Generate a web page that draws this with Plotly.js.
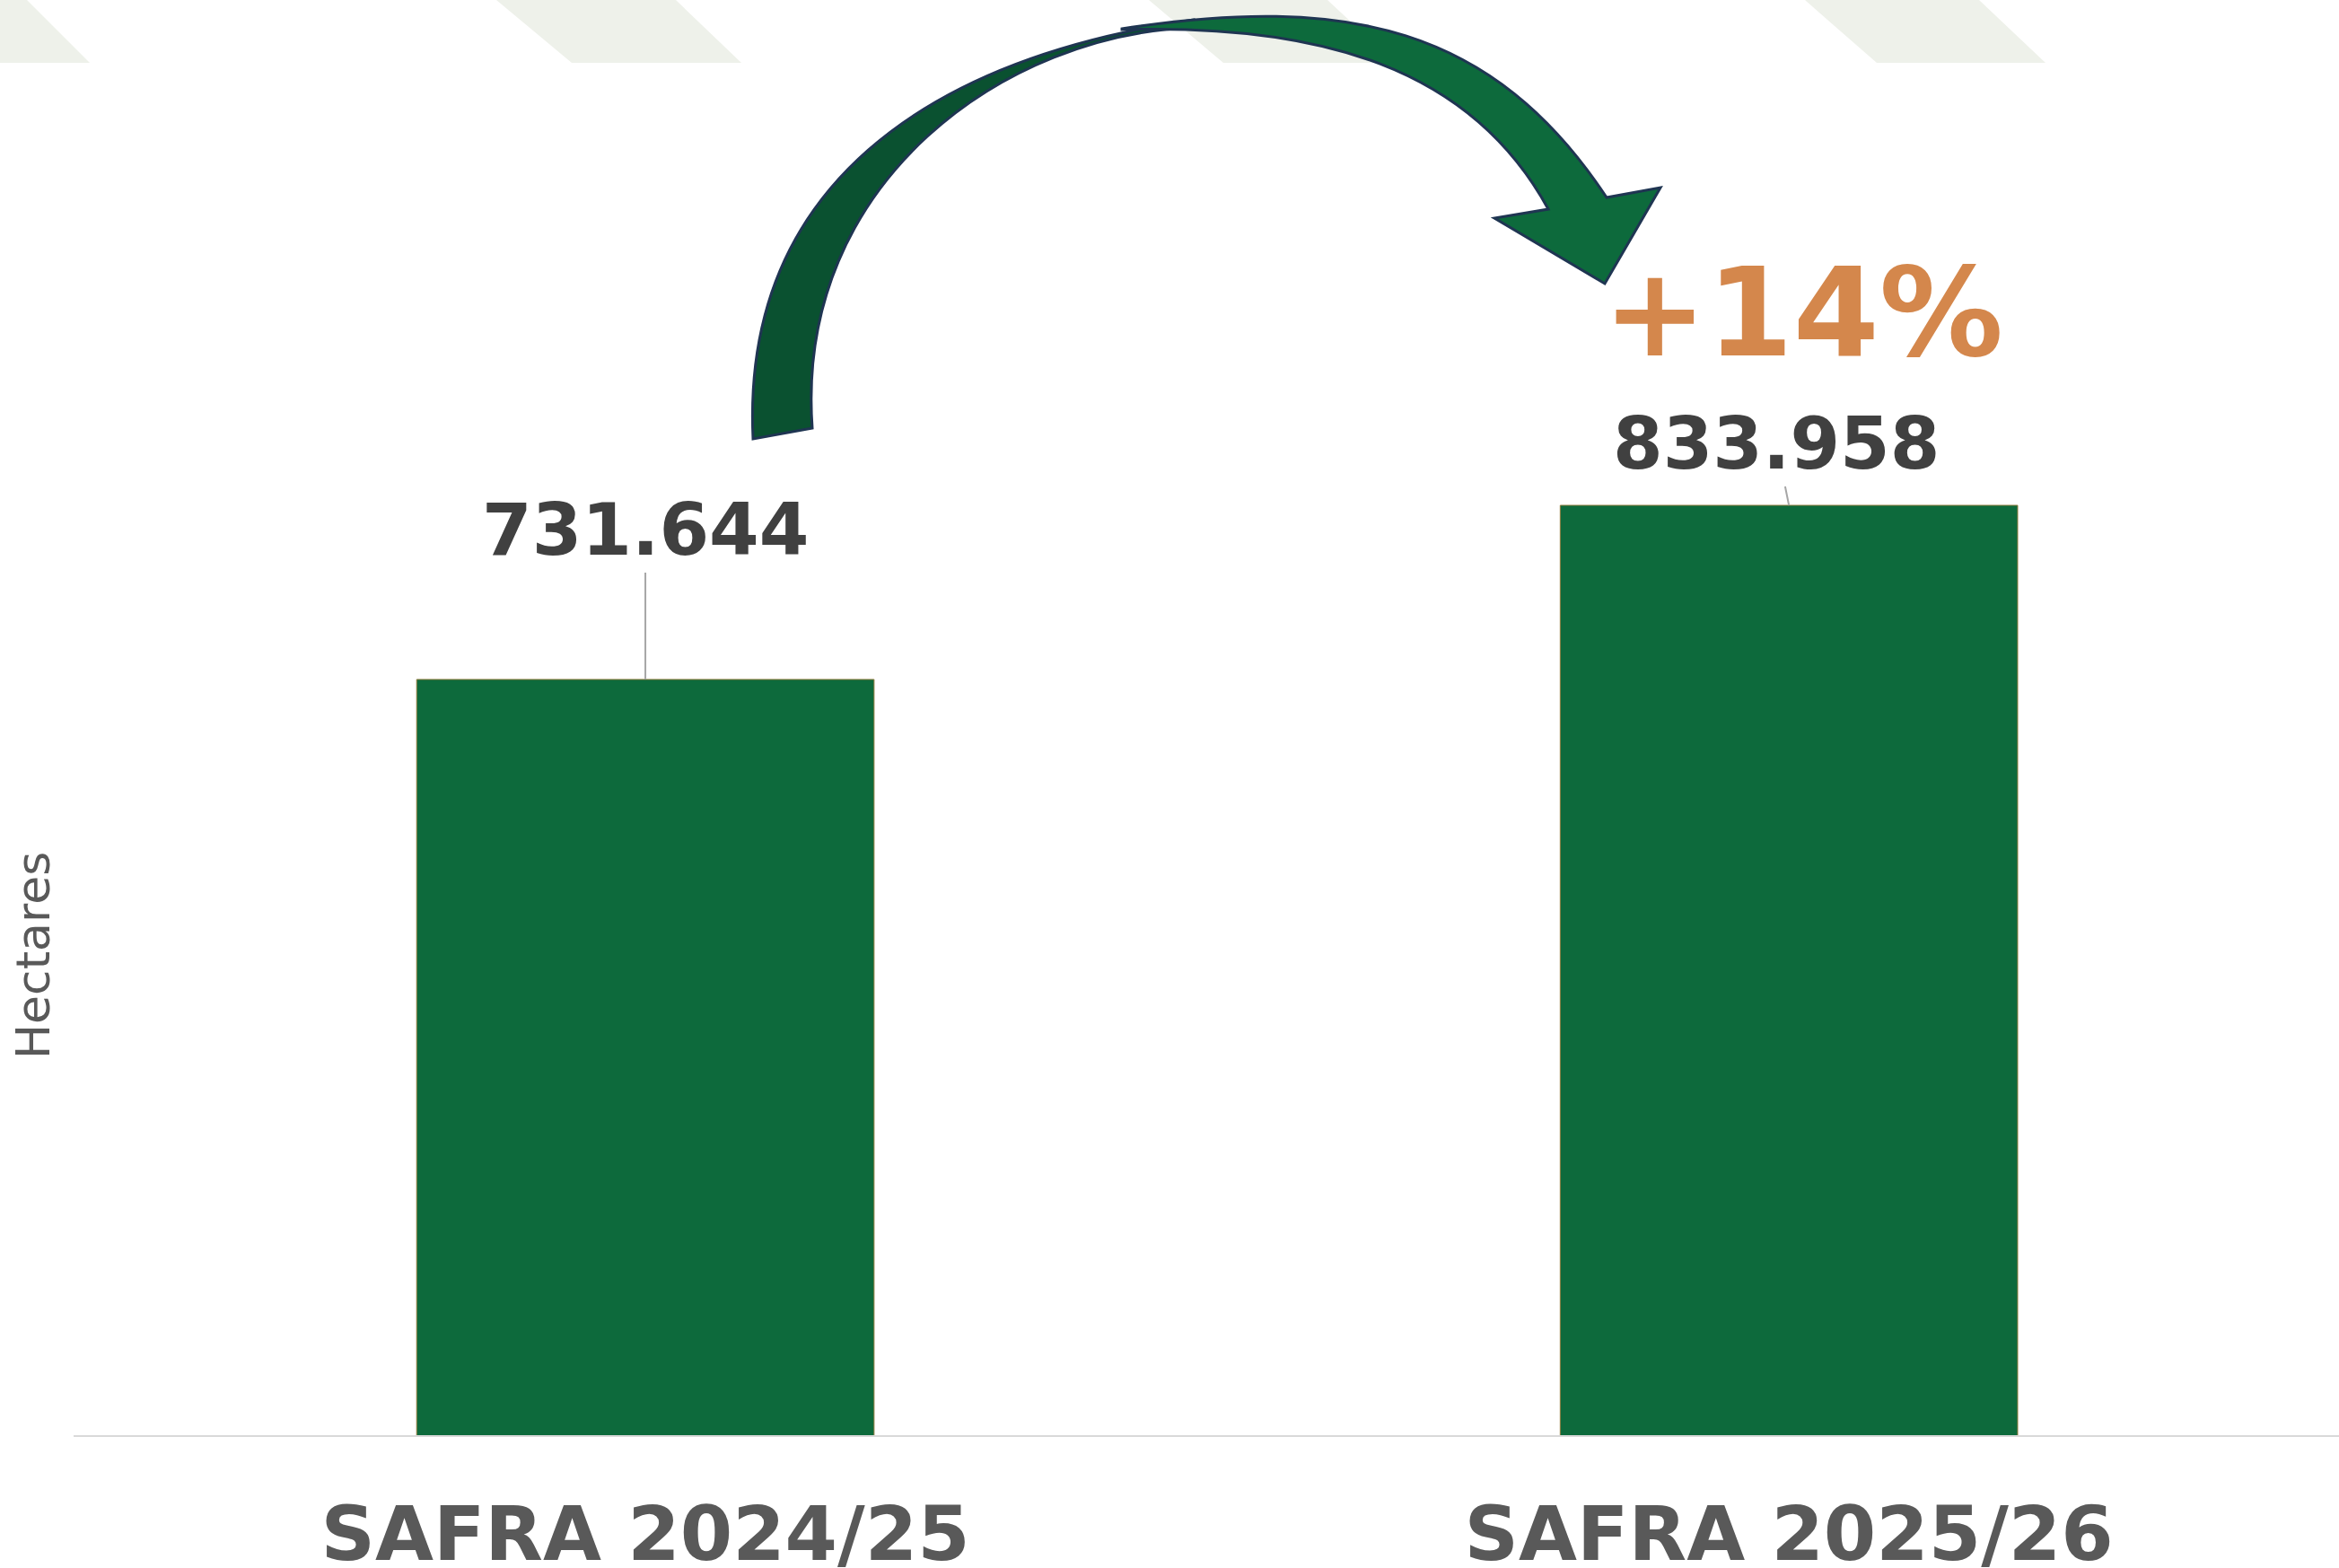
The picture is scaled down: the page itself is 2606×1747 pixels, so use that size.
<!DOCTYPE html>
<html>
<head>
<meta charset="utf-8">
<script src="https://cdn.plot.ly/plotly-3.0.1.min.js"></script>
<style>html,body{margin:0;padding:0;background:#fff;overflow:hidden}</style>
</head>
<body>
<div id="chart"></div>
<script>
// ---- data ----
const categories = ['SAFRA 2024/25', 'SAFRA 2025/26'];
const hectares = [731644, 833958];
const yAxisTitle = 'Hectares';

// ---- helpers ----
const W = 2606, H = 1747;
const ML = 82, MR = 0, MT = 0, MB = 148;
const PW = W - ML - MR, PH = H - MT - MB;
const px = x => (x - ML) / PW;
const py = y => (H - MB - y) / PH;
const pt = p => px(p[0]).toFixed(5) + ',' + py(p[1]).toFixed(5);
function pathOf(cmds) {
  return cmds.map(c => {
    const [op, ...pts] = c;
    return op + ' ' + pts.map(pt).join(' ');
  }).join(' ');
}
const fmt = n => String(n).replace(/\B(?=(\d{3})+(?!\d))/g, '.');
const growth = Math.round((hectares[1] / hectares[0] - 1) * 100);

// decorative top bands (pixel geometry)
const bands = [
  [[-170, 0], [30, 0], [100, 70], [-100, 70]],
  [[553, 0], [753, 0], [826, 70], [637, 70]],
  [[1280, 0], [1479, 0], [1554, 70], [1363, 70]],
  [[2011, 0], [2205, 0], [2279, 70], [2091, 70]]
];
const shapes = bands.map(b => ({
  type: 'path', xref: 'paper', yref: 'paper', layer: 'below',
  path: pathOf([['M', b[0]], ['L', b[1]], ['L', b[2]], ['L', b[3]], ['Z']]),
  fillcolor: '#EEF1EA', line: {width: 0}
}));

// curved arrow: back (dark) half
shapes.push({
  type: 'path', xref: 'paper', yref: 'paper', layer: 'above',
  path: pathOf([
    ['M', [839, 489]],
    ['C', [826, 210], [1030, 66], [1330, 22]],
    ['L', [1330, 31]],
    ['C', [1125, 36], [885, 200], [905, 477]],
    ['Z']
  ]),
  fillcolor: '#0A5130', line: {color: '#1F3552', width: 3}
});
// curved arrow: front half with head
shapes.push({
  type: 'path', xref: 'paper', yref: 'paper', layer: 'above',
  path: pathOf([
    ['M', [1250, 32]],
    ['C', [1500, -6.5], [1663.5, 29], [1790, 220]],
    ['L', [1850, 209]],
    ['L', [1788, 316]],
    ['L', [1665, 243]],
    ['L', [1725, 233]],
    ['C', [1638.6, 74.6], [1470, 26.4], [1250, 33]],
    ['Z']
  ]),
  fillcolor: '#0D6A3C', line: {color: '#1F3552', width: 3}
});

const labelFont = {family: 'DejaVu Sans', size: 80, color: '#404040', weight: 'bold'};
const annotations = [
  {
    x: categories[0], y: hectares[0], xref: 'x', yref: 'y',
    text: '<b>' + fmt(hectares[0]) + '</b>', font: labelFont,
    showarrow: true, arrowhead: 0, arrowwidth: 2, arrowcolor: '#A6A6A6',
    ax: 0, ay: -167, standoff: 0, startstandoff: 0
  },
  {
    x: categories[1], y: hectares[1], xref: 'x', yref: 'y',
    text: '<b>' + fmt(hectares[1]) + '</b>', font: labelFont,
    showarrow: true, arrowhead: 0, arrowwidth: 2, arrowcolor: '#A6A6A6',
    ax: -14, ay: -69, standoff: 0, startstandoff: 0
  },
  {
    x: px(2009), y: py(348), xref: 'paper', yref: 'paper',
    xanchor: 'center', yanchor: 'middle', showarrow: false,
    text: '<b>+' + growth + '%</b>',
    font: {family: 'DejaVu Sans', size: 138, color: '#D4874C'}
  },
  {
    x: px(37), y: py(1065), xref: 'paper', yref: 'paper',
    xanchor: 'center', yanchor: 'middle', showarrow: false,
    text: yAxisTitle, textangle: -90,
    font: {family: 'DejaVu Sans', size: 52, color: '#595959'}
  }
];

const trace = {
  type: 'bar',
  x: categories,
  y: hectares,
  width: 0.4,
  marker: {color: '#0D6A3C', line: {color: '#8C7A3A', width: 1}},
  hoverinfo: 'skip'
};

const layout = {
  width: W, height: H,
  margin: {l: ML, r: MR, t: MT, b: MB, pad: 0},
  paper_bgcolor: '#ffffff', plot_bgcolor: '#ffffff',
  showlegend: false,
  xaxis: {
    type: 'category',
    range: [-0.5, 1.481],
    showline: true, linecolor: '#D9D9D9', linewidth: 2,
    ticks: '', showgrid: false, zeroline: false,
    ticklabelstandoff: 36,
    tickfont: {family: 'DejaVu Sans', size: 84, color: '#595959', weight: 'bold'},
    fixedrange: true
  },
  yaxis: {
    range: [287574, 1130884],
    showline: false, showgrid: false, zeroline: false,
    showticklabels: false, ticks: '',
    fixedrange: true
  },
  shapes: shapes,
  annotations: annotations
};

Plotly.newPlot('chart', [trace], layout, {displayModeBar: false, staticPlot: true});
</script>
</body>
</html>
